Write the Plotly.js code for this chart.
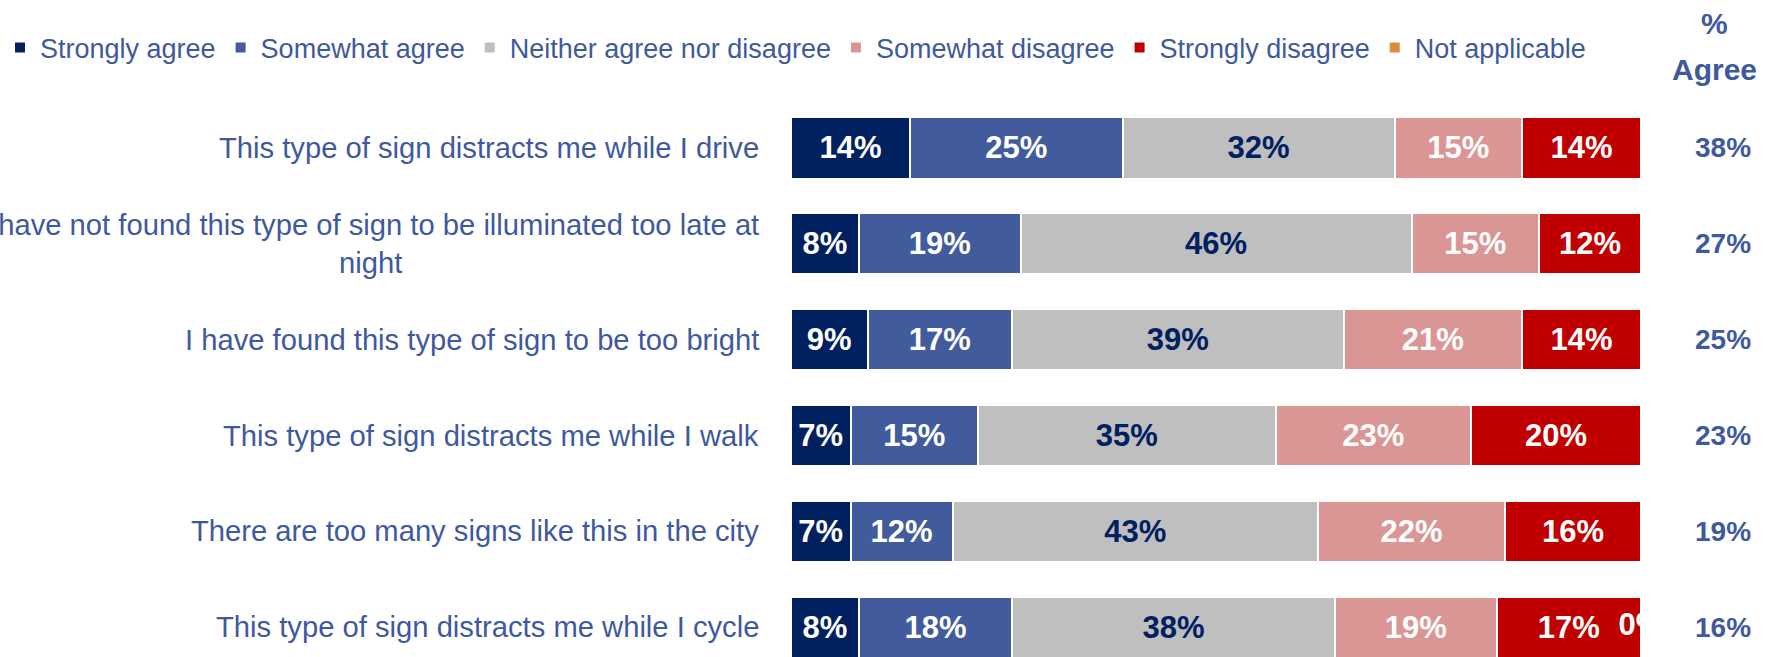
<!DOCTYPE html>
<html>
<head>
<meta charset="utf-8">
<script src="https://cdn.plot.ly/plotly-3.0.1.min.js"></script>
<style>html,body{margin:0;padding:0;background:#fff;}#chart{width:1783px;height:657px;}</style>
</head>
<body>
<div id="chart"></div>
<script>
var categories = [
  "This type of sign distracts me while I drive",
  "I have not found this type of sign to be illuminated too late at<br>night",
  "I have found this type of sign to be too bright",
  "This type of sign distracts me while I walk",
  "There are too many signs like this in the city",
  "This type of sign distracts me while I cycle"
];
var seriesNames = ["Strongly agree", "Somewhat agree", "Neither agree nor disagree", "Somewhat disagree", "Strongly disagree", "Not applicable"];
var stronglyAgree    = [14, 8, 9, 7, 7, 8];
var somewhatAgree    = [25, 19, 17, 15, 12, 18];
var neither          = [32, 46, 39, 35, 43, 38];
var somewhatDisagree = [15, 15, 21, 23, 22, 19];
var stronglyDisagree = [14, 12, 14, 20, 16, 17];
var notApplicable    = [0, 0, 0, 0, 0, 0];
var notApplicableLabels = ["", "", "", "", "", "0%"];
var pctAgree = [38, 27, 25, 23, 19, 16];

var colors = ["#002060", "#415B9D", "#BFBFBF", "#DA9694", "#C00000", "#E08A3C"];
var textColors = ["#FFFFFF", "#FFFFFF", "#002060", "#FFFFFF", "#FFFFFF", "#FFFFFF"];
var labelBlue = "#3F599E";
var FONT = "Liberation Sans, Arial, sans-serif";

var seriesValues = [stronglyAgree, somewhatAgree, neither, somewhatDisagree, stronglyDisagree, notApplicable];

var traces = seriesValues.map(function (vals, i) {
  return {
    type: "bar",
    orientation: "h",
    name: seriesNames[i],
    y: categories,
    x: vals,
    text: vals.map(function (v) { return v > 0 ? v + "%" : ""; }),
    textposition: "inside",
    insidetextanchor: "middle",
    constraintext: "none",
    textfont: { family: FONT, size: 31, color: textColors[i], weight: 700 },
    marker: { color: colors[i], line: { color: "#FFFFFF", width: 2 } },
    hoverinfo: "skip"
  };
});

// label of the zero-width "Not applicable" segment, placed at the end of each stack
var stackEnds = categories.map(function (c, r) {
  return seriesValues.reduce(function (s, arr) { return s + arr[r]; }, 0);
});
traces.push({
  type: "scatter",
  mode: "text",
  x: stackEnds,
  y: categories,
  text: notApplicableLabels,
  textposition: "middle center",
  cliponaxis: true,
  textfont: { family: FONT, size: 31, color: "#FFFFFF", weight: 700 },
  showlegend: false,
  hoverinfo: "skip"
});

var annotations = [];
categories.forEach(function (c, r) {
  annotations.push({
    xref: "paper", yref: "y", x: 0, y: c, xanchor: "right", yanchor: "middle",
    xshift: -30, align: "center", showarrow: false, text: c,
    font: { family: FONT, size: 29.2, color: labelBlue }
  });
  annotations.push({
    xref: "paper", yref: "y", x: 1.0965, y: c, xanchor: "center", yanchor: "middle",
    showarrow: false, text: pctAgree[r] + "%",
    font: { family: FONT, size: 28, color: labelBlue, weight: 700 }
  });
});
annotations.push({
  xref: "paper", yref: "paper", x: 1.086, y: 1.138, xanchor: "center", yanchor: "middle",
  showarrow: false, text: "%", font: { family: FONT, size: 30, color: labelBlue, weight: 700 }
});
annotations.push({
  xref: "paper", yref: "paper", x: 1.086, y: 1.054, xanchor: "center", yanchor: "middle",
  showarrow: false, text: "Agree", font: { family: FONT, size: 30, color: labelBlue, weight: 700 }
});

var layout = {
  width: 1783, height: 657,
  margin: { l: 791, r: 142, t: 100, b: 0, pad: 0 },
  paper_bgcolor: "#FFFFFF", plot_bgcolor: "#FFFFFF",
  barmode: "stack",
  bargap: 0.36,
  showlegend: true,
  legend: {
    orientation: "h", xref: "paper", yref: "paper",
    x: -791 / 850, y: 1 + 52 / 557, xanchor: "left", yanchor: "middle",
    traceorder: "normal",
    font: { family: FONT, size: 27, color: labelBlue },
    itemclick: false, itemdoubleclick: false
  },
  xaxis: { range: [0, 100], visible: false, fixedrange: true },
  yaxis: { type: "category", range: [5.31, -0.5], showticklabels: false, showgrid: false, zeroline: false, fixedrange: true },
  annotations: annotations
};

Plotly.newPlot("chart", traces, layout, { displayModeBar: false, staticPlot: true });
</script>
</body>
</html>
